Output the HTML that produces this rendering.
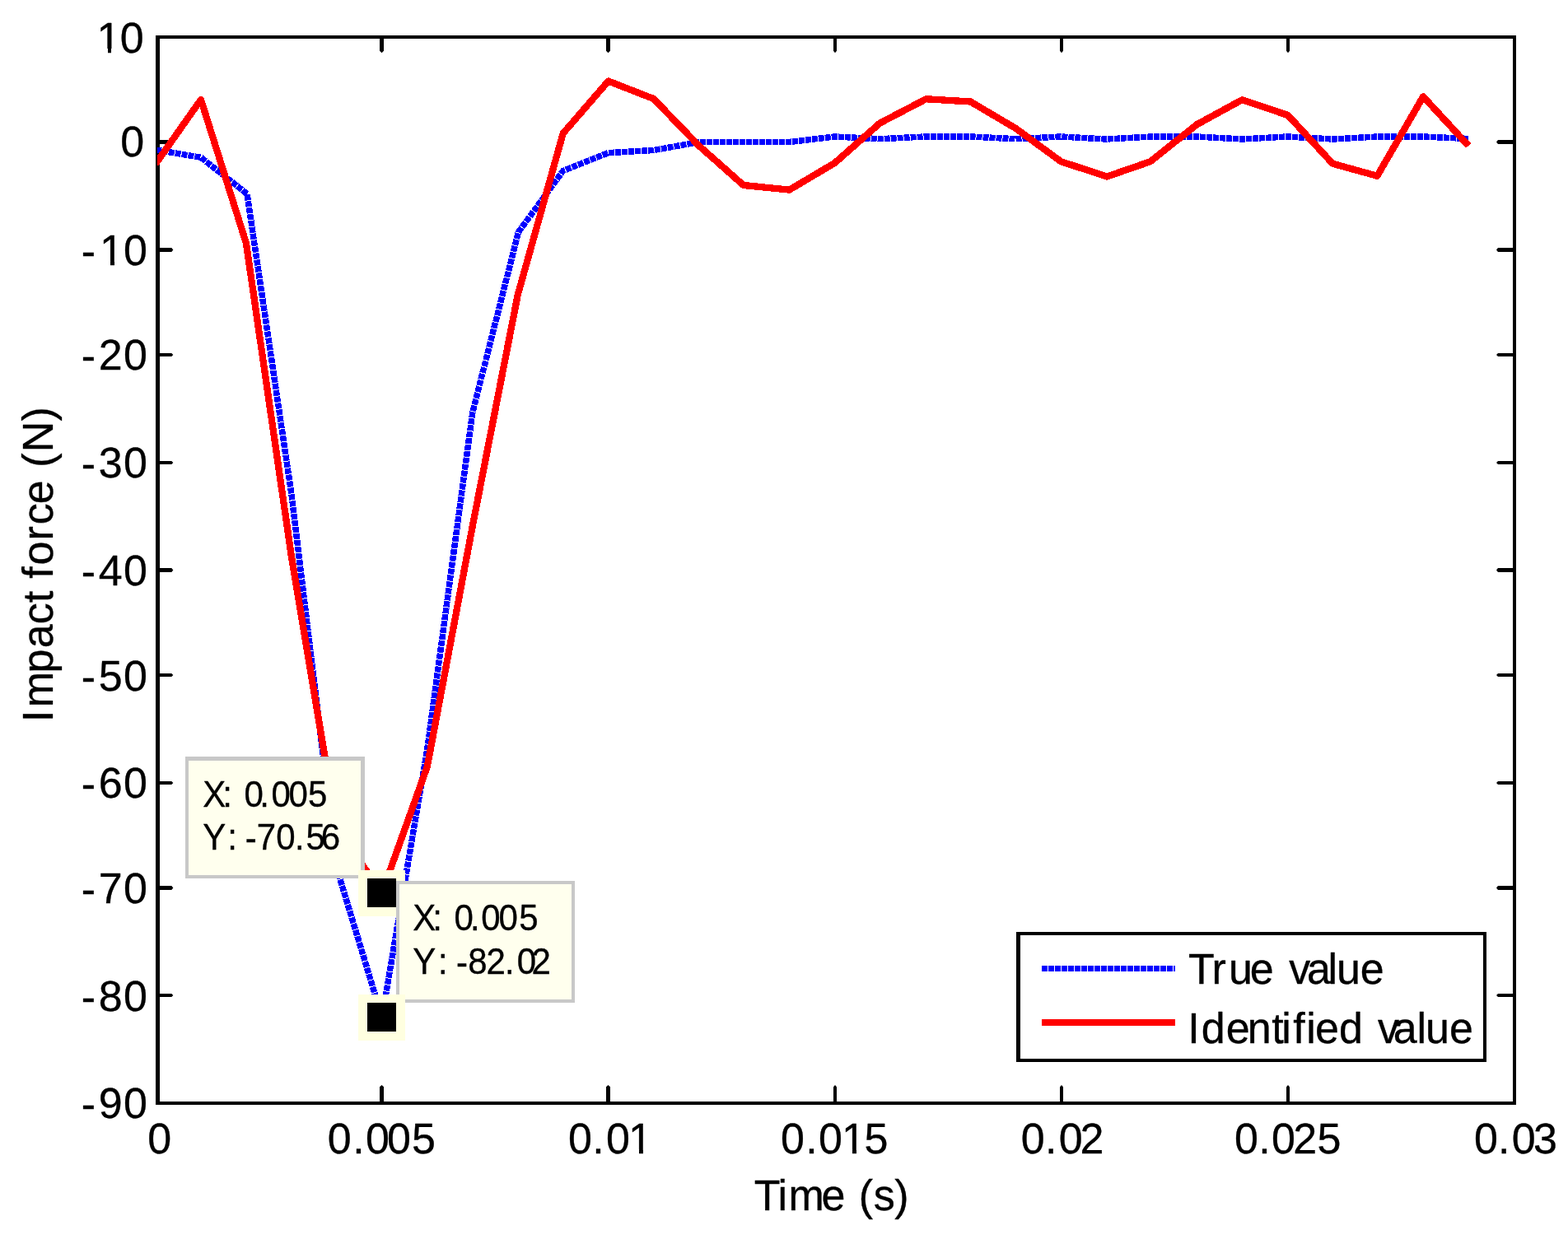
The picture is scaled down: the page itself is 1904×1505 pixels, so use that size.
<!DOCTYPE html>
<html lang="en"><head><meta charset="utf-8"><title>Impact force identification</title>
<style>
html,body{margin:0;padding:0;background:#fff;}
body{width:1904px;height:1505px;overflow:hidden;}
svg{display:block;font-family:"Liberation Sans", sans-serif;font-kerning:none;}
svg text{font-kerning:none;white-space:pre;stroke:#000;stroke-width:0.35px;stroke-linejoin:round;}
</style></head><body>
<svg width="1904" height="1505" viewBox="0 0 1904 1505">
<rect x="0" y="0" width="1904" height="1505" fill="#fff"/>
<g shape-rendering="crispEdges">
<rect x="189.00" y="43.00" width="1652.00" height="4.00" fill="#000"/>
<rect x="189.00" y="1338.00" width="1652.00" height="4.00" fill="#000"/>
<rect x="189.00" y="43.00" width="5.00" height="1299.00" fill="#000"/>
<rect x="1837.00" y="43.00" width="4.00" height="1299.00" fill="#000"/>
</g>
<polygon points="193.50,170.00 208.30,170.00 210.30,172.50 208.30,175.00 193.50,175.00" fill="#000"/>
<polygon points="1837.50,170.00 1819.00,170.00 1817.00,172.50 1819.00,175.00 1837.50,175.00" fill="#000"/>
<polygon points="193.50,301.00 208.30,301.00 210.30,303.50 208.30,306.00 193.50,306.00" fill="#000"/>
<polygon points="1837.50,301.00 1819.00,301.00 1817.00,303.50 1819.00,306.00 1837.50,306.00" fill="#000"/>
<polygon points="193.50,429.00 208.30,429.00 210.30,431.00 208.30,433.00 193.50,433.00" fill="#000"/>
<polygon points="1837.50,429.00 1819.00,429.00 1817.00,431.00 1819.00,433.00 1837.50,433.00" fill="#000"/>
<polygon points="193.50,560.00 208.30,560.00 210.30,562.00 208.30,564.00 193.50,564.00" fill="#000"/>
<polygon points="1837.50,560.00 1819.00,560.00 1817.00,562.00 1819.00,564.00 1837.50,564.00" fill="#000"/>
<polygon points="193.50,690.00 208.30,690.00 210.30,692.50 208.30,695.00 193.50,695.00" fill="#000"/>
<polygon points="1837.50,690.00 1819.00,690.00 1817.00,692.50 1819.00,695.00 1837.50,695.00" fill="#000"/>
<polygon points="193.50,818.00 208.30,818.00 210.30,820.00 208.30,822.00 193.50,822.00" fill="#000"/>
<polygon points="1837.50,818.00 1819.00,818.00 1817.00,820.00 1819.00,822.00 1837.50,822.00" fill="#000"/>
<polygon points="193.50,949.00 208.30,949.00 210.30,951.00 208.30,953.00 193.50,953.00" fill="#000"/>
<polygon points="1837.50,949.00 1819.00,949.00 1817.00,951.00 1819.00,953.00 1837.50,953.00" fill="#000"/>
<polygon points="193.50,1076.00 208.30,1076.00 210.30,1078.50 208.30,1081.00 193.50,1081.00" fill="#000"/>
<polygon points="1837.50,1076.00 1819.00,1076.00 1817.00,1078.50 1819.00,1081.00 1837.50,1081.00" fill="#000"/>
<polygon points="193.50,1207.00 208.30,1207.00 210.30,1209.00 208.30,1211.00 193.50,1211.00" fill="#000"/>
<polygon points="1837.50,1207.00 1819.00,1207.00 1817.00,1209.00 1819.00,1211.00 1837.50,1211.00" fill="#000"/>
<polygon points="461.00,1338.50 461.00,1320.20 463.50,1318.00 466.00,1320.20 466.00,1338.50" fill="#000"/>
<polygon points="461.00,46.50 461.00,61.80 463.50,64.20 466.00,61.80 466.00,46.50" fill="#000"/>
<polygon points="736.00,1338.50 736.00,1320.20 738.50,1318.00 741.00,1320.20 741.00,1338.50" fill="#000"/>
<polygon points="736.00,46.50 736.00,61.80 738.50,64.20 741.00,61.80 741.00,46.50" fill="#000"/>
<polygon points="1012.00,1338.50 1012.00,1320.20 1014.00,1318.00 1016.00,1320.20 1016.00,1338.50" fill="#000"/>
<polygon points="1012.00,46.50 1012.00,61.80 1014.00,64.20 1016.00,61.80 1016.00,46.50" fill="#000"/>
<polygon points="1287.00,1338.50 1287.00,1320.20 1289.00,1318.00 1291.00,1320.20 1291.00,1338.50" fill="#000"/>
<polygon points="1287.00,46.50 1287.00,61.80 1289.00,64.20 1291.00,61.80 1291.00,46.50" fill="#000"/>
<polygon points="1562.00,1338.50 1562.00,1320.20 1564.00,1318.00 1566.00,1320.20 1566.00,1338.50" fill="#000"/>
<polygon points="1562.00,46.50 1562.00,61.80 1564.00,64.20 1566.00,61.80 1566.00,46.50" fill="#000"/>
<g>
<text transform="translate(0,64.00) scale(1,0.9900)" x="117.54 145.87" y="0" font-size="52.00" fill="#000">10</text>
<g shape-rendering="crispEdges">
<rect x="119.10" y="59.00" width="11.42" height="6.00" fill="#fff"/>
<rect x="135.31" y="59.00" width="10.57" height="6.00" fill="#fff"/>
</g>
<text transform="translate(0,190.30) scale(1,0.9900)" x="146.17" y="0" font-size="52.00" fill="#000">0</text>
<text transform="translate(0,322.00) scale(1,0.9900)" x="98.69 121.04 150.07" y="1.21 0.00 0.00" font-size="52.00" fill="#000">-10</text>
<g shape-rendering="crispEdges">
<rect x="122.60" y="317.00" width="11.42" height="6.00" fill="#fff"/>
<rect x="138.81" y="317.00" width="10.57" height="6.00" fill="#fff"/>
</g>
<text transform="translate(0,449.00) scale(1,0.9900)" x="98.69 119.70 150.07" y="1.21 0.00 0.00" font-size="52.00" fill="#000">-20</text>
<text transform="translate(0,580.00) scale(1,0.9900)" x="98.69 119.70 150.07" y="1.21 0.00 0.00" font-size="52.00" fill="#000">-30</text>
<text transform="translate(0,711.00) scale(1,0.9900)" x="98.69 119.70 150.07" y="1.21 0.00 0.00" font-size="52.00" fill="#000">-40</text>
<text transform="translate(0,839.00) scale(1,0.9900)" x="98.69 119.70 150.07" y="1.21 0.00 0.00" font-size="52.00" fill="#000">-50</text>
<text transform="translate(0,969.00) scale(1,0.9900)" x="98.69 119.70 150.07" y="1.21 0.00 0.00" font-size="52.00" fill="#000">-60</text>
<text transform="translate(0,1097.00) scale(1,0.9900)" x="98.69 119.70 150.07" y="1.21 0.00 0.00" font-size="52.00" fill="#000">-70</text>
<text transform="translate(0,1228.00) scale(1,0.9900)" x="98.69 119.70 150.07" y="1.21 0.00 0.00" font-size="52.00" fill="#000">-80</text>
<text transform="translate(0,1357.50) scale(1,0.9900)" x="98.69 119.70 150.07" y="1.21 0.00 0.00" font-size="52.00" fill="#000">-90</text>
<text transform="translate(0,1400.80) scale(1,0.9900)" x="179.17" y="0" font-size="52.00" fill="#000">0</text>
<text transform="translate(0,1400.80) scale(1,0.9900)" x="397.72 428.25 444.07 469.97 499.92" y="0" font-size="52.00" fill="#000">0.005</text>
<text transform="translate(0,1400.80) scale(1,0.9900)" x="689.97 719.15 735.97 763.04" y="0" font-size="52.00" fill="#000">0.01</text>
<g shape-rendering="crispEdges">
<rect x="764.60" y="1396.00" width="11.42" height="6.00" fill="#fff"/>
<rect x="780.81" y="1396.00" width="10.57" height="6.00" fill="#fff"/>
</g>
<text transform="translate(0,1400.80) scale(1,0.9900)" x="947.97 978.15 993.97 1022.04 1049.52" y="0" font-size="52.00" fill="#000">0.015</text>
<g shape-rendering="crispEdges">
<rect x="1023.60" y="1396.00" width="11.42" height="6.00" fill="#fff"/>
<rect x="1039.81" y="1396.00" width="10.57" height="6.00" fill="#fff"/>
</g>
<text transform="translate(0,1400.80) scale(1,0.9900)" x="1239.87 1269.00 1285.87 1311.48" y="0" font-size="52.00" fill="#000">0.02</text>
<text transform="translate(0,1400.80) scale(1,0.9900)" x="1498.97 1528.15 1543.97 1570.28 1599.52" y="0" font-size="52.00" fill="#000">0.025</text>
<text transform="translate(0,1400.80) scale(1,0.9900)" x="1789.97 1819.00 1835.87 1861.92" y="0" font-size="52.00" fill="#000">0.03</text>
</g>
<text transform="translate(0,1470.00) scale(1,1.0050)" x="915.83 944.42 957.55 997.54 1026.46 1042.78 1060.80 1086.30" y="0" font-size="52.00" fill="#000">Time (s)</text>
<text transform="translate(64.00,872.10) rotate(-90) scale(1,1.0050)" x="-4.80 12.75 54.50 84.99 113.79 140.21 154.66 169.36 185.67 215.55 234.89 259.89 288.81 304.48 322.83 360.55" y="0" font-size="52.00" fill="#000">Impact force (N)</text>
<defs><clipPath id="axclip"><rect x="191" y="45" width="1648" height="1295"/></clipPath></defs>
<g clip-path="url(#axclip)" fill="none" stroke-linejoin="miter" stroke-miterlimit="3">
<polyline points="189.00,182.00 243.97,191.25 300.00,235.50 353.91,600.00 408.88,1054.50 463.85,1236.00 518.82,910.00 573.79,501.00 629.50,282.00 683.73,207.50 738.70,185.60 793.67,182.50 848.64,172.50 903.61,172.50 958.58,172.50 1013.55,166.00 1068.52,168.75 1123.49,166.00 1178.46,166.00 1233.43,168.75 1288.40,166.00 1343.37,169.00 1398.34,166.00 1453.31,166.00 1508.28,169.00 1563.25,166.00 1618.22,169.00 1673.19,166.00 1728.16,166.00 1783.13,168.50" stroke="#0000ff" stroke-width="7.5" stroke-dasharray="7 1" stroke-linejoin="round" shape-rendering="crispEdges"/>
<polyline points="189.00,199.00 243.97,121.00 298.94,295.50 353.91,676.00 408.88,1006.00 463.85,1084.50 518.82,931.00 573.79,639.00 628.76,358.00 683.73,162.00 738.70,98.50 793.67,120.00 848.64,177.00 902.80,225.00 958.58,230.60 1013.55,198.00 1068.52,149.50 1124.60,120.25 1178.46,123.50 1233.43,156.00 1288.40,196.25 1344.20,214.50 1396.80,196.25 1453.31,151.25 1508.28,121.25 1564.00,140.00 1618.22,198.75 1672.30,213.75 1728.16,117.30 1783.13,177.00" stroke="#ff0000" stroke-width="8.3" stroke-linejoin="round" shape-rendering="crispEdges"/>
</g>
<g shape-rendering="crispEdges">
<rect x="1234.00" y="1132.00" width="571.00" height="158.00" fill="#000"/>
<rect x="1239.00" y="1136.00" width="562.00" height="150.00" fill="#fff"/>
<rect x="1265.00" y="1238.00" width="162.00" height="8.00" fill="#ff0000"/>
</g>
<line x1="1265" y1="1176.5" x2="1427" y2="1176.5" stroke="#0000ff" stroke-width="7" stroke-dasharray="7 1" shape-rendering="crispEdges"/>
<text transform="translate(0,1195.00) scale(1,1.0050)" x="1442.93 1471.55 1492.02 1517.79 1546.71 1565.22 1586.89 1612.50 1623.02 1651.79" y="0" font-size="52.00" fill="#000">True value</text>
<text transform="translate(0,1267.00) scale(1,1.0050)" x="1442.20 1458.82 1488.79 1514.65 1544.21 1556.27 1570.26 1586.27 1596.89 1626.12 1655.04 1672.92 1691.79 1720.50 1731.02 1759.89" y="0" font-size="52.00" fill="#000">Identified value</text>
<g shape-rendering="crispEdges">
<rect x="225.00" y="919.40" width="217.50" height="147.85" fill="#c8c8c8"/>
<rect x="229.40" y="923.80" width="208.70" height="139.05" fill="#ffffee"/>
</g>
<text transform="translate(0,980.00) scale(1,1.0400)" x="246.16 270.27 281.93 296.46 315.17 329.61 350.61 373.92" y="0.00 0.00 0.00 0.00 0.00 0.00 0.00 0.00" font-size="42.00" fill="#000">X: 0.005</text>
<text transform="translate(0,1032.10) scale(1,1.0400)" x="246.18 276.17 287.83 297.88 311.85 335.26 358.07 371.42 389.77" y="0.00 0.00 0.00 0.67 0.00 0.00 0.00 0.00 0.00" font-size="42.00" fill="#000">Y: -70.56</text>
<g shape-rendering="crispEdges">
<rect x="435.00" y="1057.00" width="57.00" height="55.50" fill="#ffffe0"/>
<rect x="446.00" y="1067.00" width="35.00" height="35.00" fill="#000"/>
</g>
<g shape-rendering="crispEdges">
<rect x="481.00" y="1070.00" width="216.75" height="147.75" fill="#c8c8c8"/>
<rect x="484.80" y="1073.80" width="209.15" height="140.15" fill="#ffffee"/>
</g>
<text transform="translate(0,1130.00) scale(1,1.0400)" x="501.31 525.17 536.83 551.46 570.92 584.36 605.61 630.22" y="0.00 0.00 0.00 0.00 0.00 0.00 0.00 0.00" font-size="42.00" fill="#000">X: 0.005</text>
<text transform="translate(0,1183.10) scale(1,1.0400)" x="501.33 532.07 543.73 554.13 568.17 590.39 613.07 627.76 645.39" y="0.00 0.00 0.00 0.67 0.00 0.00 0.00 0.00 0.00" font-size="42.00" fill="#000">Y: -82.02</text>
<g shape-rendering="crispEdges">
<rect x="435.00" y="1208.00" width="57.00" height="55.50" fill="#ffffe0"/>
<rect x="446.00" y="1218.00" width="35.00" height="35.00" fill="#000"/>
</g>
</svg>
</body></html>
